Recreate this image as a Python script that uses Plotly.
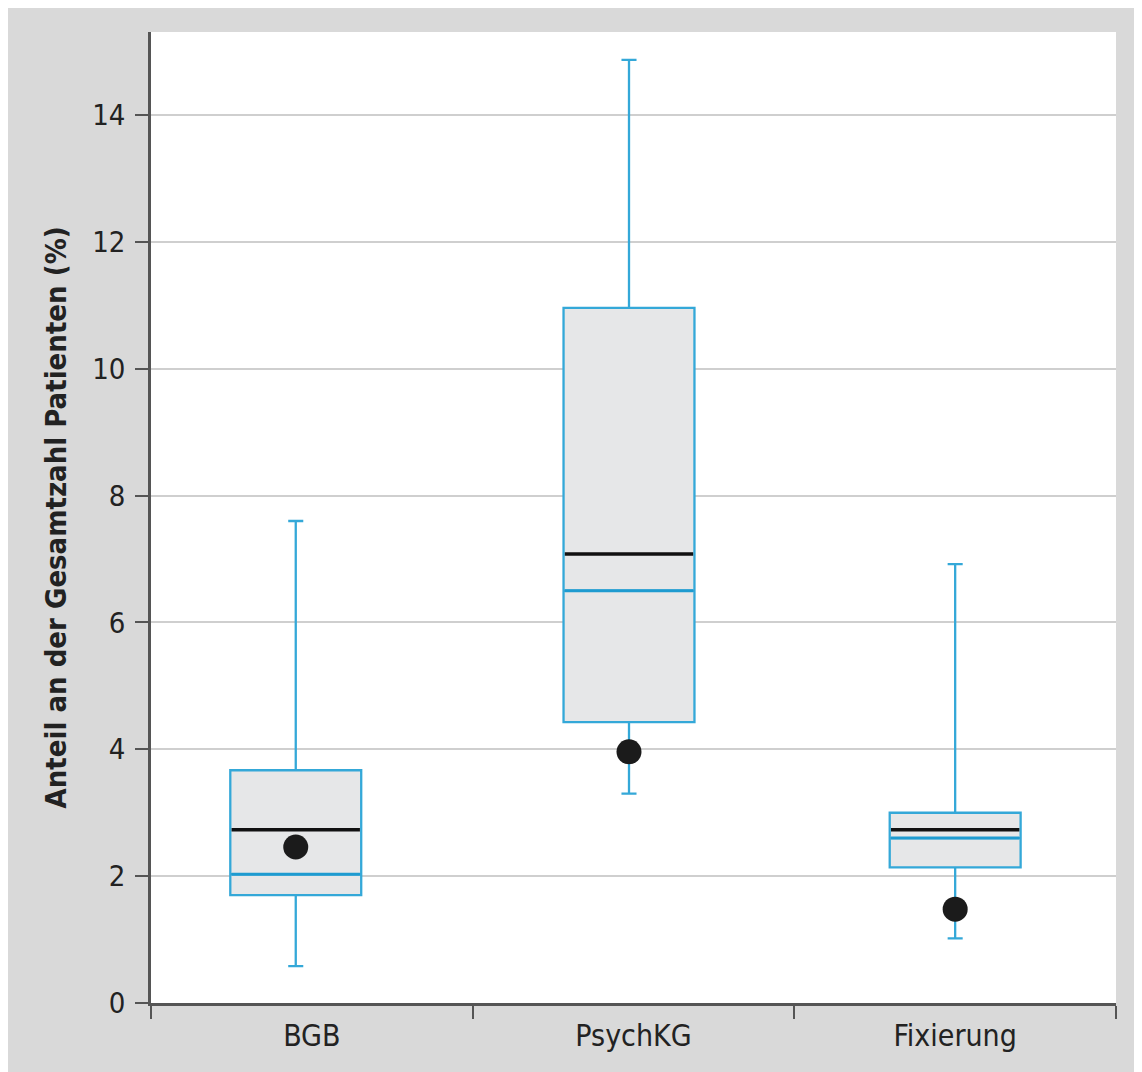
import plotly.graph_objects as go

categories = ["BGB", "PsychKG", "Fixierung"]
positions = [0.45, 1.486, 2.5]
lower_fence = [0.58, 3.30, 1.02]
q1 = [1.70, 4.43, 2.14]
median = [2.03, 6.50, 2.60]
q3 = [3.67, 10.96, 3.00]
upper_fence = [7.60, 14.87, 6.92]
black_line = [2.73, 7.08, 2.73]
dot_value = [2.46, 3.96, 1.48]
y_ticks = [0, 2, 4, 6, 8, 10, 12, 14]

BOX_W = 0.407
BLUE = "#34a8d8"
MED_BLUE = "#1e9bd0"
FONT = "DejaVu Sans Condensed"

fig = go.Figure()
fig.add_trace(go.Box(
    x=positions, q1=q1, median=median, q3=q3,
    lowerfence=lower_fence, upperfence=upper_fence,
    width=BOX_W, whiskerwidth=0.115,
    fillcolor="#e6e7e8", line=dict(color=BLUE, width=2.3),
    boxpoints=False, showlegend=False, hoverinfo="skip",
))
for p, m in zip(positions, median):
    fig.add_trace(go.Scatter(
        x=[p - BOX_W / 2 + 0.004, p + BOX_W / 2 - 0.004], y=[m, m], mode="lines",
        line=dict(color=MED_BLUE, width=3), showlegend=False, hoverinfo="skip",
    ))
for p, b in zip(positions, black_line):
    fig.add_trace(go.Scatter(
        x=[p - BOX_W / 2 + 0.004, p + BOX_W / 2 - 0.004], y=[b, b], mode="lines",
        line=dict(color="#111111", width=3.5), showlegend=False, hoverinfo="skip",
    ))
fig.add_trace(go.Scatter(
    x=positions, y=dot_value, mode="markers",
    marker=dict(size=25, color="#1b1b1b"), showlegend=False, hoverinfo="skip",
))

fig.update_layout(
    width=1135, height=1064,
    margin=dict(l=143, r=27, t=24, b=69),
    paper_bgcolor="#d9d9d9", plot_bgcolor="white",
    font=dict(family=FONT, size=28, color="#222222"),
    xaxis=dict(
        range=[0, 3], tickvals=[0.5, 1.5, 2.5], ticktext=categories,
        ticks="", showgrid=False, zeroline=False,
        showline=True, linecolor="#555555", linewidth=2.5,
        minor=dict(tick0=0, dtick=1, ticks="outside", ticklen=13,
                   tickcolor="#555555", tickwidth=1.5, showgrid=False),
        tickfont=dict(size=30, family=FONT, color="#222222"),
        ticklabelstandoff=4,
    ),
    yaxis=dict(
        range=[0, 15.31], tickvals=y_ticks,
        ticks="outside", ticklen=13, tickcolor="#555555", tickwidth=1.5,
        showgrid=True, gridcolor="#cfcfcf", gridwidth=1.5,
        zeroline=False, showline=True, linecolor="#555555", linewidth=2.5,
        tickfont=dict(size=29, family=FONT, color="#222222"),
        ticklabelstandoff=4,
    ),
)
fig.add_annotation(
    text="<b>Anteil an der Gesamtzahl Patienten (%)</b>",
    xref="paper", yref="paper", x=0, y=0.5, xanchor="center", yanchor="middle",
    xshift=-96, textangle=-90, showarrow=False,
    font=dict(size=29, family=FONT, color="#222222"),
)
fig.write_html("out.html")
